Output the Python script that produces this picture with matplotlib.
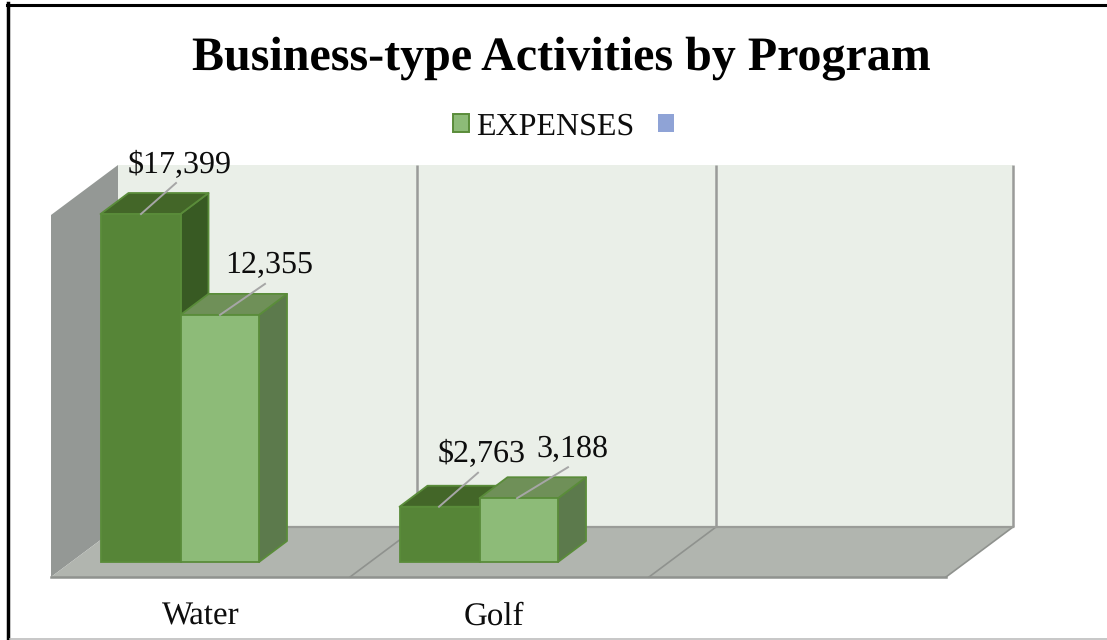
import matplotlib
matplotlib.use('Agg')
import matplotlib.pyplot as plt
from matplotlib.patches import Patch, Polygon

plt.rcParams['font.family'] = ['Liberation Serif', 'DejaVu Serif']
plt.rcParams['text.hinting'] = 'no_hinting'
plt.rcParams['text.hinting_factor'] = 1

title = 'Business-type Activities by Program'
categories = ['Water', 'Golf', '']
dark_values = [17399, 2763]
light_values = [12355, 3188]
dark_labels = ['$17,399', '$2,763']
light_labels = ['12,355', '3,188']
legend_names = ['EXPENSES', ' ']

W, H = 1107, 640
PX_X = 299         # pixels per category
PX_Y = 0.02        # pixels per dollar
X0, Y0 = 51, 562   # pixel position of category 0 / value 0


def dx(px):
    return px / PX_X


def dy(px):
    return px / PX_Y


def box(ax, x, w, v, front, top, side, edge, z):
    ddx, ddy = dx(28), dy(21)
    ax.add_patch(Polygon([(x + w, 0), (x + w + ddx, ddy), (x + w + ddx, v + ddy), (x + w, v)],
                         fc=side, ec=edge, lw=1.3, joinstyle='round', zorder=z))
    ax.add_patch(Polygon([(x, v), (x + ddx, v + ddy), (x + w + ddx, v + ddy), (x + w, v)],
                         fc=top, ec=edge, lw=1.3, joinstyle='round', zorder=z))
    ax.bar(x, v, w, align='edge', color=front, edgecolor=edge, lw=1.3, zorder=z)


fig = plt.figure(figsize=(W / 100, H / 100), dpi=100)
ax = fig.add_axes([0, 0, 1, 1])
ax.set_xlim(-X0 / PX_X, (W - X0) / PX_X)
ax.set_ylim((Y0 - H) / PX_Y, Y0 / PX_Y)
ax.axis('off')

# walls and floor
front = dy(-15)
depth_x, depth_y = dx(67), dy(50)
n = len(categories)
right = dx(895)
top_v = dy(397)
back = front + depth_y
ax.add_patch(Polygon([(depth_x, back), (depth_x + right, back), (depth_x + right, top_v), (depth_x, top_v)],
                     fc='#eaefe8', ec='none', zorder=1))
ax.add_patch(Polygon([(0, front), (depth_x, back), (depth_x, top_v), (0, top_v - depth_y)],
                     fc='#949895', ec='none', zorder=1))
ax.add_patch(Polygon([(0, front), (right, front), (right + depth_x, back), (depth_x, back)],
                     fc='#b1b5af', ec='none', zorder=1))
for x in [1, 2, right]:
    ax.plot([x + depth_x, x + depth_x], [back, top_v], color='#9a9b99', lw=1.8,
            solid_capstyle='butt', zorder=2)
    ax.plot([x, x + depth_x], [front, back], color='#8f928e', lw=1.2, zorder=2)
ax.plot([depth_x, right + depth_x], [back, back], color='#9a9c98', lw=1.6, zorder=2)
ax.plot([0, right], [front, front], color='#8f928e', lw=1.8, zorder=2)

# bars
dark_w, light_w = dx(80), dx(78.5)
for i, (d, l) in enumerate(zip(dark_values, light_values)):
    x = i + dx(49.5)
    box(ax, x, dark_w, d, '#568537', '#436628', '#385a23', '#5a8c3a', 3)
    box(ax, x + dark_w, light_w, l, '#8dbb78', '#6f9058', '#5c7a4c', '#5a8c3a', 4)

# value labels with leader lines
label_pos = [[(180, 165), (269, 265)], [(482, 454), (572, 449)]]
leaders = [[(141, 176, 31), (220, 265, 31)], [(439, 478, 34), (517, 568, 31)]]
for i, (dl, ll) in enumerate(zip(dark_labels, light_labels)):
    values = (dark_values[i], light_values[i])
    for j, text in enumerate((dl, ll)):
        x1, x2, rise = leaders[i][j]
        ax.plot([dx(x1 - X0), dx(x2 - X0)], [values[j], values[j] + dy(rise)],
                color='#a6a6a6', lw=1.4, zorder=5)
        px, py = label_pos[i][j]
        ax.text(dx(px - X0), dy(Y0 - py), text, fontsize=23, ha='center', va='center',
                color='#0d0d0d', zorder=6)

cat_px = [201, 494, 793]
for c, px in zip(categories, cat_px):
    ax.text(dx(px - X0), dy(Y0 - 617), c, fontsize=24, ha='center', va='center', color='#0d0d0d')

fig.text(561 / W, 1 - 58 / H, title, fontsize=34.5, fontweight='bold', ha='center', va='center', color='black')

handles = [Patch(fc='#8dbb78', ec='#5a8c3a', lw=1.4), Patch(fc='#8fa3d6', ec='none')]
ax.legend(handles, legend_names, ncol=2, loc='center', bbox_to_anchor=(571 / W, 1 - 127 / H),
          frameon=False, fontsize=23, handlelength=0.5, handleheight=0.5,
          handletextpad=0.22, columnspacing=0.72, labelcolor='#0d0d0d', borderpad=0)

# outer frame
fig.add_artist(plt.Line2D([8.3 / W, 8.3 / W], [0, 1 - 3 / H], color='black', lw=2.5))
fig.add_artist(plt.Line2D([6.5 / W, 1], [1 - 4.5 / H, 1 - 4.5 / H], color='black', lw=2.2))
fig.add_artist(plt.Line2D([10 / W, 1], [1 - 638.5 / H, 1 - 638.5 / H], color='#bdbdbd', lw=1.2))

fig.savefig('out.png', dpi=100)
